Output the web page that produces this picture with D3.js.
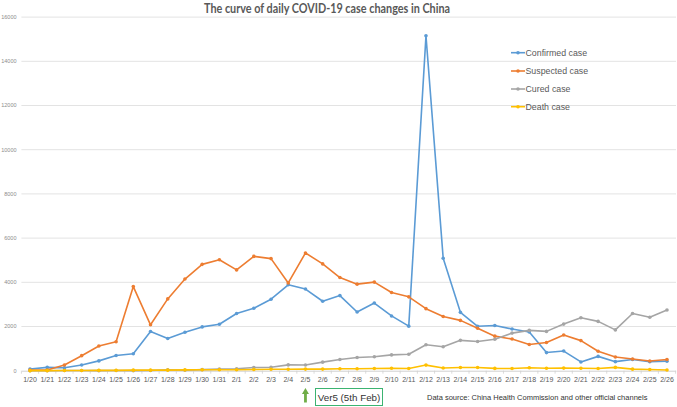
<!DOCTYPE html>
<html><head><meta charset="utf-8">
<script src="https://cdn.jsdelivr.net/npm/d3@7"></script>
<style>html,body{margin:0;padding:0;background:#fff;}svg{display:block;}</style>
</head><body>
<svg id="chart" width="677" height="407"></svg>
<script>
const dates = ["1/20","1/21","1/22","1/23","1/24","1/25","1/26","1/27","1/28","1/29","1/30","1/31","2/1","2/2","2/3","2/4","2/5","2/6","2/7","2/8","2/9","2/10","2/11","2/12","2/13","2/14","2/15","2/16","2/17","2/18","2/19","2/20","2/21","2/22","2/23","2/24","2/25","2/26"];
const confirmed = [77,149,131,259,444,688,769,1771,1459,1737,1982,2102,2590,2829,3235,3887,3694,3143,3399,2656,3062,2478,2015,15152,5090,2641,2008,2048,1886,1749,820,889,397,648,409,508,406,433];
const suspected = [27,27,257,680,1118,1309,3806,2077,3248,4148,4812,5019,4562,5173,5072,3971,5328,4833,4214,3916,4008,3536,3342,2807,2450,2277,1918,1563,1432,1185,1277,1614,1361,882,620,530,439,508];
const cured = [0,0,6,6,3,11,2,9,43,21,47,72,85,147,157,262,261,387,510,600,632,716,744,1171,1081,1373,1323,1425,1701,1824,1779,2109,2393,2231,1846,2589,2419,2750];
const deaths = [3,3,8,8,16,15,24,26,26,38,43,46,45,57,64,65,73,73,86,89,97,108,97,254,121,143,142,105,98,136,114,118,109,97,150,71,52,29];
const seriesNames = ["Confirmed case","Suspected case","Cured case","Death case"];
const seriesColors = ["#5b9bd5","#ed7d31","#a5a5a5","#ffc000"];
const yTicks = [0,2000,4000,6000,8000,10000,12000,14000,16000];
const titleText = "The curve of daily COVID-19 case changes in China";
const annotationDate = "2/5";
const annotationText = "Ver5 (5th Feb)";
const sourceText = "Data source: China Health Commission and other official channels";

const svg = d3.select("#chart");
const allSeries = [confirmed, suspected, cured, deaths];

const x = d3.scaleBand().domain(dates).range([21.4, 675.6]);
const y = d3.scaleLinear().domain([0,16000]).range([370.7, 17.1]);
const cx = d => x(d) + x.bandwidth()/2;

// gridlines
svg.append("g").selectAll("line").data(yTicks.slice(1)).join("line")
  .attr("x1", 21.4).attr("x2", 676).attr("y1", d=>y(d)).attr("y2", d=>y(d))
  .attr("stroke", "#e3e3e3").attr("stroke-width", 1);

// y labels
svg.append("g").selectAll("text").data(yTicks).join("text")
  .attr("x", 16.5).attr("y", d=>y(d)+1.8).attr("text-anchor","end")
  .attr("font-family","Liberation Sans, Arial, sans-serif").attr("font-size","5.5px")
  .attr("fill","#8c8c8c").text(d=>d);

// x axis
const xAxis = d3.axisBottom(x).tickSize(0).tickPadding(6);
const gx = svg.append("g").attr("transform",`translate(0,${y(0)})`).call(xAxis);
gx.select(".domain").attr("stroke","#d0d0d0");
gx.selectAll("text").attr("font-family","Liberation Sans, Arial, sans-serif").attr("font-size","7px").attr("fill","#595959");
// small ticks at band boundaries
svg.append("g").selectAll("line").data(dates.concat(["end"])).join("line")
  .attr("x1", (d,i)=> 21.4 + i*x.step()).attr("x2",(d,i)=>21.4 + i*x.step())
  .attr("y1", y(0)).attr("y2", y(0)+3).attr("stroke","#d0d0d0").attr("stroke-width",0.8);

// lines
const line = d3.line().x((d,i)=>cx(dates[i])).y(d=>y(d));
allSeries.forEach((s,k)=>{
  const g = svg.append("g");
  g.append("path").datum(s).attr("d", line).attr("fill","none")
    .attr("stroke", seriesColors[k]).attr("stroke-width",1.6).attr("stroke-linejoin","round");
  g.selectAll("circle").data(s).join("circle")
    .attr("cx",(d,i)=>cx(dates[i])).attr("cy",d=>y(d)).attr("r",1.8)
    .attr("fill",seriesColors[k]);
});

// title
svg.append("text").attr("x",327).attr("y",13).attr("text-anchor","middle")
  .attr("font-family","Lato, Liberation Sans, sans-serif").attr("font-weight","bold")
  .attr("font-size","13px").attr("fill","#595959")
  .attr("textLength",246).attr("lengthAdjust","spacingAndGlyphs").text(titleText);

// legend
const legY = [52.7, 71, 89, 106.7];
seriesNames.forEach((n,k)=>{
  const g = svg.append("g");
  g.append("line").attr("x1",511).attr("x2",525).attr("y1",legY[k]).attr("y2",legY[k])
    .attr("stroke",seriesColors[k]).attr("stroke-width",1.6);
  g.append("circle").attr("cx",518).attr("cy",legY[k]).attr("r",1.8).attr("fill",seriesColors[k]);
  g.append("text").attr("x",525.5).attr("y",legY[k]+3).attr("font-family","Liberation Sans, Arial, sans-serif")
    .attr("font-size","8.8px").attr("fill","#595959").text(n);
});

// annotation arrow
const ax = cx(annotationDate);
svg.append("path")
  .attr("d", `M${ax},388 L${ax+3.5},394 L${ax+1.4},394 L${ax+1.4},402.5 L${ax-1.4},402.5 L${ax-1.4},394 L${ax-3.5},394 Z`)
  .attr("fill","#70ad47");
svg.append("rect").attr("x",315.5).attr("y",388.5).attr("width",67).attr("height",17)
  .attr("fill","#fff").attr("stroke","#3cb371").attr("stroke-width",1);
svg.append("text").attr("x",349).attr("y",400.5).attr("text-anchor","middle")
  .attr("font-family","Liberation Sans, Arial, sans-serif").attr("font-size","9.8px").attr("fill","#333")
  .text(annotationText);

// source
svg.append("text").attr("x",427).attr("y",399.5)
  .attr("font-family","Liberation Sans, Arial, sans-serif").attr("font-size","7.5px").attr("fill","#333")
  .text(sourceText);
</script>
</body></html>
